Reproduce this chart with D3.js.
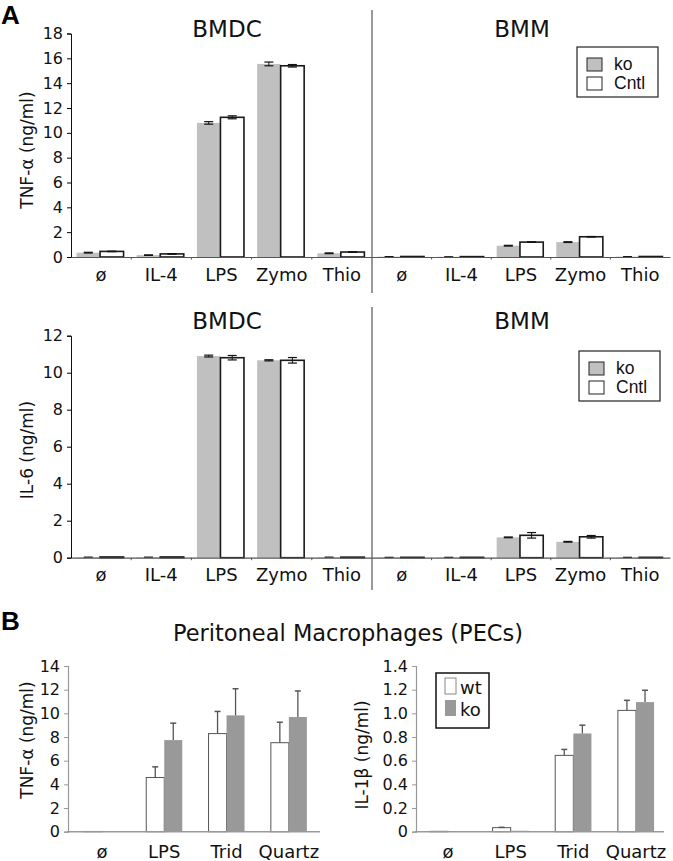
<!DOCTYPE html>
<html>
<head>
<meta charset="utf-8">
<script src="https://cdn.jsdelivr.net/npm/d3@7"></script>
<style>
  body { margin: 0; background: #fff; }
  svg { display: block; font-family: 'DejaVu Sans', sans-serif; }
</style>
</head>
<body>
<div id="chart"></div>
<script>
// ---- data ----
const catsA = ['ø', 'IL-4', 'LPS', 'Zymo', 'Thio'];
const groupsA = ['ko', 'Cntl'];

const tnfBmdcKo = [0.35, 0.15, 10.8, 15.55, 0.3];
const tnfBmdcKoErr = [0.03, 0.02, 0.1, 0.15, 0.03];
const tnfBmdcCntl = [0.45, 0.25, 11.25, 15.4, 0.4];
const tnfBmdcCntlErr = [0.02, 0.02, 0.12, 0.1, 0.02];
const tnfBmmKo = [0.03, 0.02, 0.91, 1.2, 0.03];
const tnfBmmKoErr = [0, 0, 0.03, 0.03, 0];
const tnfBmmCntl = [0.04, 0.03, 1.2, 1.63, 0.04];
const tnfBmmCntlErr = [0, 0, 0.02, 0.02, 0];

const il6BmdcKo = [0.03, 0.03, 10.9, 10.67, 0.03];
const il6BmdcKoErr = [0, 0, 0.05, 0.03, 0];
const il6BmdcCntl = [0.04, 0.04, 10.81, 10.67, 0.03];
const il6BmdcCntlErr = [0, 0, 0.12, 0.15, 0];
const il6BmmKo = [0.02, 0.02, 1.1, 0.86, 0.02];
const il6BmmKoErr = [0, 0, 0.02, 0.02, 0];
const il6BmmCntl = [0.02, 0.02, 1.21, 1.13, 0.02];
const il6BmmCntlErr = [0, 0, 0.15, 0.07, 0];

const ticksTnfA = [0, 2, 4, 6, 8, 10, 12, 14, 16, 18];
const ticksIl6A = [0, 2, 4, 6, 8, 10, 12];

const catsB = ['ø', 'LPS', 'Trid', 'Quartz'];
const groupsB = ['wt', 'ko'];
const pecTnfWt = [0.02, 4.58, 8.29, 7.52];
const pecTnfWtErr = [0, 0.9, 1.87, 1.73];
const pecTnfKo = [0.02, 7.74, 9.83, 9.69];
const pecTnfKoErr = [0, 1.43, 2.25, 2.2];
const pecIl1bWt = [0.003, 0.034, 0.645, 1.025];
const pecIl1bWtErr = [0, 0.003, 0.05, 0.085];
const pecIl1bKo = [0.003, 0.008, 0.83, 1.095];
const pecIl1bKoErr = [0, 0, 0.07, 0.1];
const ticksTnfB = [0, 2, 4, 6, 8, 10, 12, 14];
const ticksIl1bB = [0, 0.2, 0.4, 0.6, 0.8, 1.0, 1.2, 1.4];

const W = 673, H = 861;
const svg = d3.select('#chart').append('svg').attr('width', W).attr('height', H);

function rows(cats, groups, vals, errs) {
  const out = [];
  cats.forEach((c, i) => groups.forEach((g, j) => out.push({ cat: c, grp: g, v: vals[j][i], e: errs[j][i] })));
  return out;
}

// ---- panel A: two cell types side by side, one shared baseline ----
function panelA(opt) {
  const y = d3.scaleLinear().domain([0, opt.yMax]).range([opt.y0, opt.y1]);
  const g = svg.append('g');
  const fill = { ko: '#c0c0c0', Cntl: '#ffffff' };

  opt.sides.forEach(side => {
    const x = d3.scaleBand().domain(catsA).range(side.range).padding(0);
    const xi = d3.scaleBand().domain(groupsA).range([0, x.bandwidth()]).paddingInner(0).paddingOuter(0.28).align(0.42);
    const data = rows(catsA, groupsA, side.vals, side.errs);
    const bars = g.append('g').selectAll('g').data(data).enter().append('g')
        .attr('transform', d => 'translate(' + (x(d.cat) + xi(d.grp)) + ',0)');
    bars.append('rect')
        .attr('x', 0).attr('width', xi.bandwidth())
        .attr('y', d => y(d.v)).attr('height', d => y(0) - y(d.v))
        .attr('fill', d => fill[d.grp])
        .attr('stroke', d => d.grp === 'Cntl' ? '#1a1a1a' : 'none')
        .attr('stroke-width', 1.6);
    const cx = xi.bandwidth() / 2;
    const eb = bars.filter(d => d.e > 0 || d.grp === 'ko');
    eb.append('line')
        .attr('x1', cx).attr('x2', cx)
        .attr('y1', d => y(d.v + d.e)).attr('y2', d => y(Math.max(0, d.v - d.e)))
        .attr('stroke', '#111').attr('stroke-width', 1);
    eb.append('line')
        .attr('x1', cx - 4.5).attr('x2', cx + 4.5)
        .attr('y1', d => y(d.v + d.e)).attr('y2', d => y(d.v + d.e))
        .attr('stroke', '#111').attr('stroke-width', 1.2);
    eb.filter(d => d.e > 0).append('line')
        .attr('x1', cx - 4.5).attr('x2', cx + 4.5)
        .attr('y1', d => y(Math.max(0, d.v - d.e))).attr('y2', d => y(Math.max(0, d.v - d.e)))
        .attr('stroke', '#111').attr('stroke-width', 1.2);

    // x axis
    const ax = g.append('g').attr('transform', 'translate(0,' + y(0) + ')')
        .call(d3.axisBottom(x).tickSize(0).tickPadding(11));
    ax.select('.domain').attr('stroke', '#555').attr('stroke-width', 1.2);
    ax.selectAll('text').attr('font-size', 18).attr('fill', '#111')
        .attr('font-family', 'DejaVu Sans, sans-serif');
    g.append('g').selectAll('line').data(catsA.slice(1)).enter().append('line')
        .attr('x1', d => x(d)).attr('x2', d => x(d))
        .attr('y1', y(0)).attr('y2', y(0) + 2.5)
        .attr('stroke', '#555');

    g.append('text').attr('x', side.titleX).attr('y', opt.titleY)
        .attr('text-anchor', 'middle').attr('font-size', 23).attr('fill', '#111')
        .text(side.title);
  });

  // y axis on the left side only
  const ay = g.append('g').attr('transform', 'translate(' + opt.sides[0].range[0] + ',0)')
      .call(d3.axisLeft(y).tickValues(opt.ticks).tickSize(4).tickPadding(4));
  ay.select('.domain').attr('stroke', '#111');
  ay.selectAll('text').attr('font-size', 16).attr('fill', '#111')
      .attr('font-family', 'DejaVu Sans, sans-serif');

  g.append('text')
      .attr('transform', 'translate(27,' + opt.labelY + ') rotate(-90)')
      .attr('text-anchor', 'middle').attr('font-size', 17).attr('fill', '#111')
      .attr('dy', '0.35em')
      .text(opt.yLabel);

  // divider
  g.append('line').attr('x1', 372).attr('x2', 372)
      .attr('y1', opt.divTop).attr('y2', opt.divBottom)
      .attr('stroke', '#555').attr('stroke-width', 1.2);

  // legend
  const lg = g.append('g').attr('transform', 'translate(' + opt.legX + ',' + opt.legY + ')');
  lg.append('rect').attr('width', 81).attr('height', 50).attr('fill', '#fff')
      .attr('stroke', '#222').attr('stroke-width', 1.2);
  groupsA.forEach((grp, i) => {
    lg.append('rect').attr('x', 10).attr('y', 11 + i * 19).attr('width', 15).attr('height', 13)
        .attr('fill', fill[grp]).attr('stroke', '#222').attr('stroke-width', 1);
    lg.append('text').attr('x', 37).attr('y', 23 + i * 19)
        .attr('font-size', 17.5).attr('fill', '#111')
        .attr('font-family', 'Liberation Sans, Arial, sans-serif')
        .text(grp);
  });
}

panelA({
  yMax: 18, y0: 257, y1: 33.5, ticks: ticksTnfA, yLabel: 'TNF-α (ng/ml)', labelY: 150,
  titleY: 37, divTop: 10, divBottom: 293, legX: 577, legY: 47,
  sides: [
    { title: 'BMDC', titleX: 227, range: [71, 372], vals: [tnfBmdcKo, tnfBmdcCntl], errs: [tnfBmdcKoErr, tnfBmdcCntlErr] },
    { title: 'BMM', titleX: 522, range: [372, 670], vals: [tnfBmmKo, tnfBmmCntl], errs: [tnfBmmKoErr, tnfBmmCntlErr] }
  ]
});

panelA({
  yMax: 12, y0: 557.7, y1: 335.7, ticks: ticksIl6A, yLabel: 'IL-6 (ng/ml)', labelY: 450,
  titleY: 329, divTop: 307, divBottom: 590, legX: 579, legY: 351,
  sides: [
    { title: 'BMDC', titleX: 227, range: [71, 372], vals: [il6BmdcKo, il6BmdcCntl], errs: [il6BmdcKoErr, il6BmdcCntlErr] },
    { title: 'BMM', titleX: 522, range: [372, 670], vals: [il6BmmKo, il6BmmCntl], errs: [il6BmmKoErr, il6BmmCntlErr] }
  ]
});

// ---- panel B: peritoneal macrophages ----
function panelB(opt) {
  const y = d3.scaleLinear().domain([0, opt.yMax]).range([831.7, 666]);
  const x = d3.scaleBand().domain(catsB).range(opt.range).padding(0);
  const xi = d3.scaleBand().domain(groupsB).range([0, x.bandwidth()]).paddingInner(0).paddingOuter(0.73);
  const fill = { wt: '#ffffff', ko: '#999999' };
  const g = svg.append('g');
  const data = rows(catsB, groupsB, opt.vals, opt.errs);

  const bars = g.append('g').selectAll('g').data(data).enter().append('g')
      .attr('transform', d => 'translate(' + (x(d.cat) + xi(d.grp)) + ',0)');
  bars.append('rect')
      .attr('x', 0).attr('width', xi.bandwidth())
      .attr('y', d => y(d.v)).attr('height', d => y(0) - y(d.v))
      .attr('fill', d => fill[d.grp])
      .attr('stroke', d => d.grp === 'wt' ? '#555' : 'none')
      .attr('stroke-width', 1);
  const cx = xi.bandwidth() / 2;
  const eb = bars.filter(d => d.e > 0);
  eb.append('line').attr('x1', cx).attr('x2', cx)
      .attr('y1', d => y(d.v)).attr('y2', d => y(d.v + d.e))
      .attr('stroke', '#555').attr('stroke-width', 1.3);
  eb.append('line').attr('x1', cx - 3).attr('x2', cx + 3)
      .attr('y1', d => y(d.v + d.e)).attr('y2', d => y(d.v + d.e))
      .attr('stroke', '#555').attr('stroke-width', 1.5);

  const ax = g.append('g').attr('transform', 'translate(0,' + y(0) + ')')
      .call(d3.axisBottom(x).tickSize(0).tickPadding(14));
  ax.select('.domain').attr('stroke', '#999').attr('stroke-width', 1.5)
      .attr('d', 'M' + (opt.axisX - 1) + ',0H' + opt.axisEnd);
  ax.selectAll('text').attr('font-size', 18).attr('fill', '#111')
      .attr('font-family', 'DejaVu Sans, sans-serif');

  const ay = g.append('g').attr('transform', 'translate(' + opt.axisX + ',0)')
      .call(d3.axisLeft(y).tickValues(opt.ticks).tickSize(4).tickPadding(4).tickFormat(opt.fmt));
  ay.select('.domain').attr('stroke', '#999').attr('stroke-width', 1.2);
  ay.selectAll('.tick line').attr('stroke', '#999');
  ay.selectAll('text').attr('font-size', 16).attr('fill', '#111')
      .attr('font-family', 'DejaVu Sans, sans-serif');

  g.append('text')
      .attr('transform', 'translate(' + opt.labelX + ',' + opt.labelY + ') rotate(-90)')
      .attr('text-anchor', 'middle').attr('font-size', 17).attr('fill', '#111')
      .attr('dy', '0.35em')
      .text(opt.yLabel);

  if (opt.legend) {
    const lg = g.append('g').attr('transform', 'translate(436,673)');
    lg.append('rect').attr('width', 53).attr('height', 55).attr('fill', '#fff')
        .attr('stroke', '#111').attr('stroke-width', 1.5);
    groupsB.forEach((grp, i) => {
      lg.append('rect').attr('x', 9).attr('y', 5 + i * 22).attr('width', 11).attr('height', 16)
          .attr('fill', fill[grp]).attr('stroke', grp === 'wt' ? '#888' : 'none');
      lg.append('text').attr('x', 24).attr('y', 21 + i * 22)
          .attr('font-size', 18).attr('fill', '#111').text(grp);
    });
  }
}

panelB({
  yMax: 14, range: [70.8, 320], axisX: 68, axisEnd: 320, ticks: ticksTnfB, fmt: d3.format('d'),
  yLabel: 'TNF-α (ng/ml)', labelX: 27, labelY: 740,
  vals: [pecTnfWt, pecTnfKo], errs: [pecTnfWtErr, pecTnfKoErr]
});
panelB({
  yMax: 1.4, range: [416.7, 667.3], axisX: 416, axisEnd: 664, ticks: ticksIl1bB,
  fmt: d => d === 0 ? '0' : d3.format('.1f')(d),
  yLabel: 'IL-1β (ng/ml)', labelX: 362, labelY: 755, legend: true,
  vals: [pecIl1bWt, pecIl1bKo], errs: [pecIl1bWtErr, pecIl1bKoErr]
});

// titles and panel letters
svg.append('text').attr('x', 348).attr('y', 641).attr('text-anchor', 'middle')
    .attr('font-size', 22.5).attr('fill', '#111').text('Peritoneal Macrophages (PECs)');
svg.append('text').attr('x', 1).attr('y', 24).attr('font-size', 26).attr('font-weight', 'bold')
    .attr('font-family', 'Liberation Sans, Arial, sans-serif').text('A');
svg.append('text').attr('x', 1).attr('y', 630).attr('font-size', 26).attr('font-weight', 'bold')
    .attr('font-family', 'Liberation Sans, Arial, sans-serif').text('B');
</script>
</body>
</html>
